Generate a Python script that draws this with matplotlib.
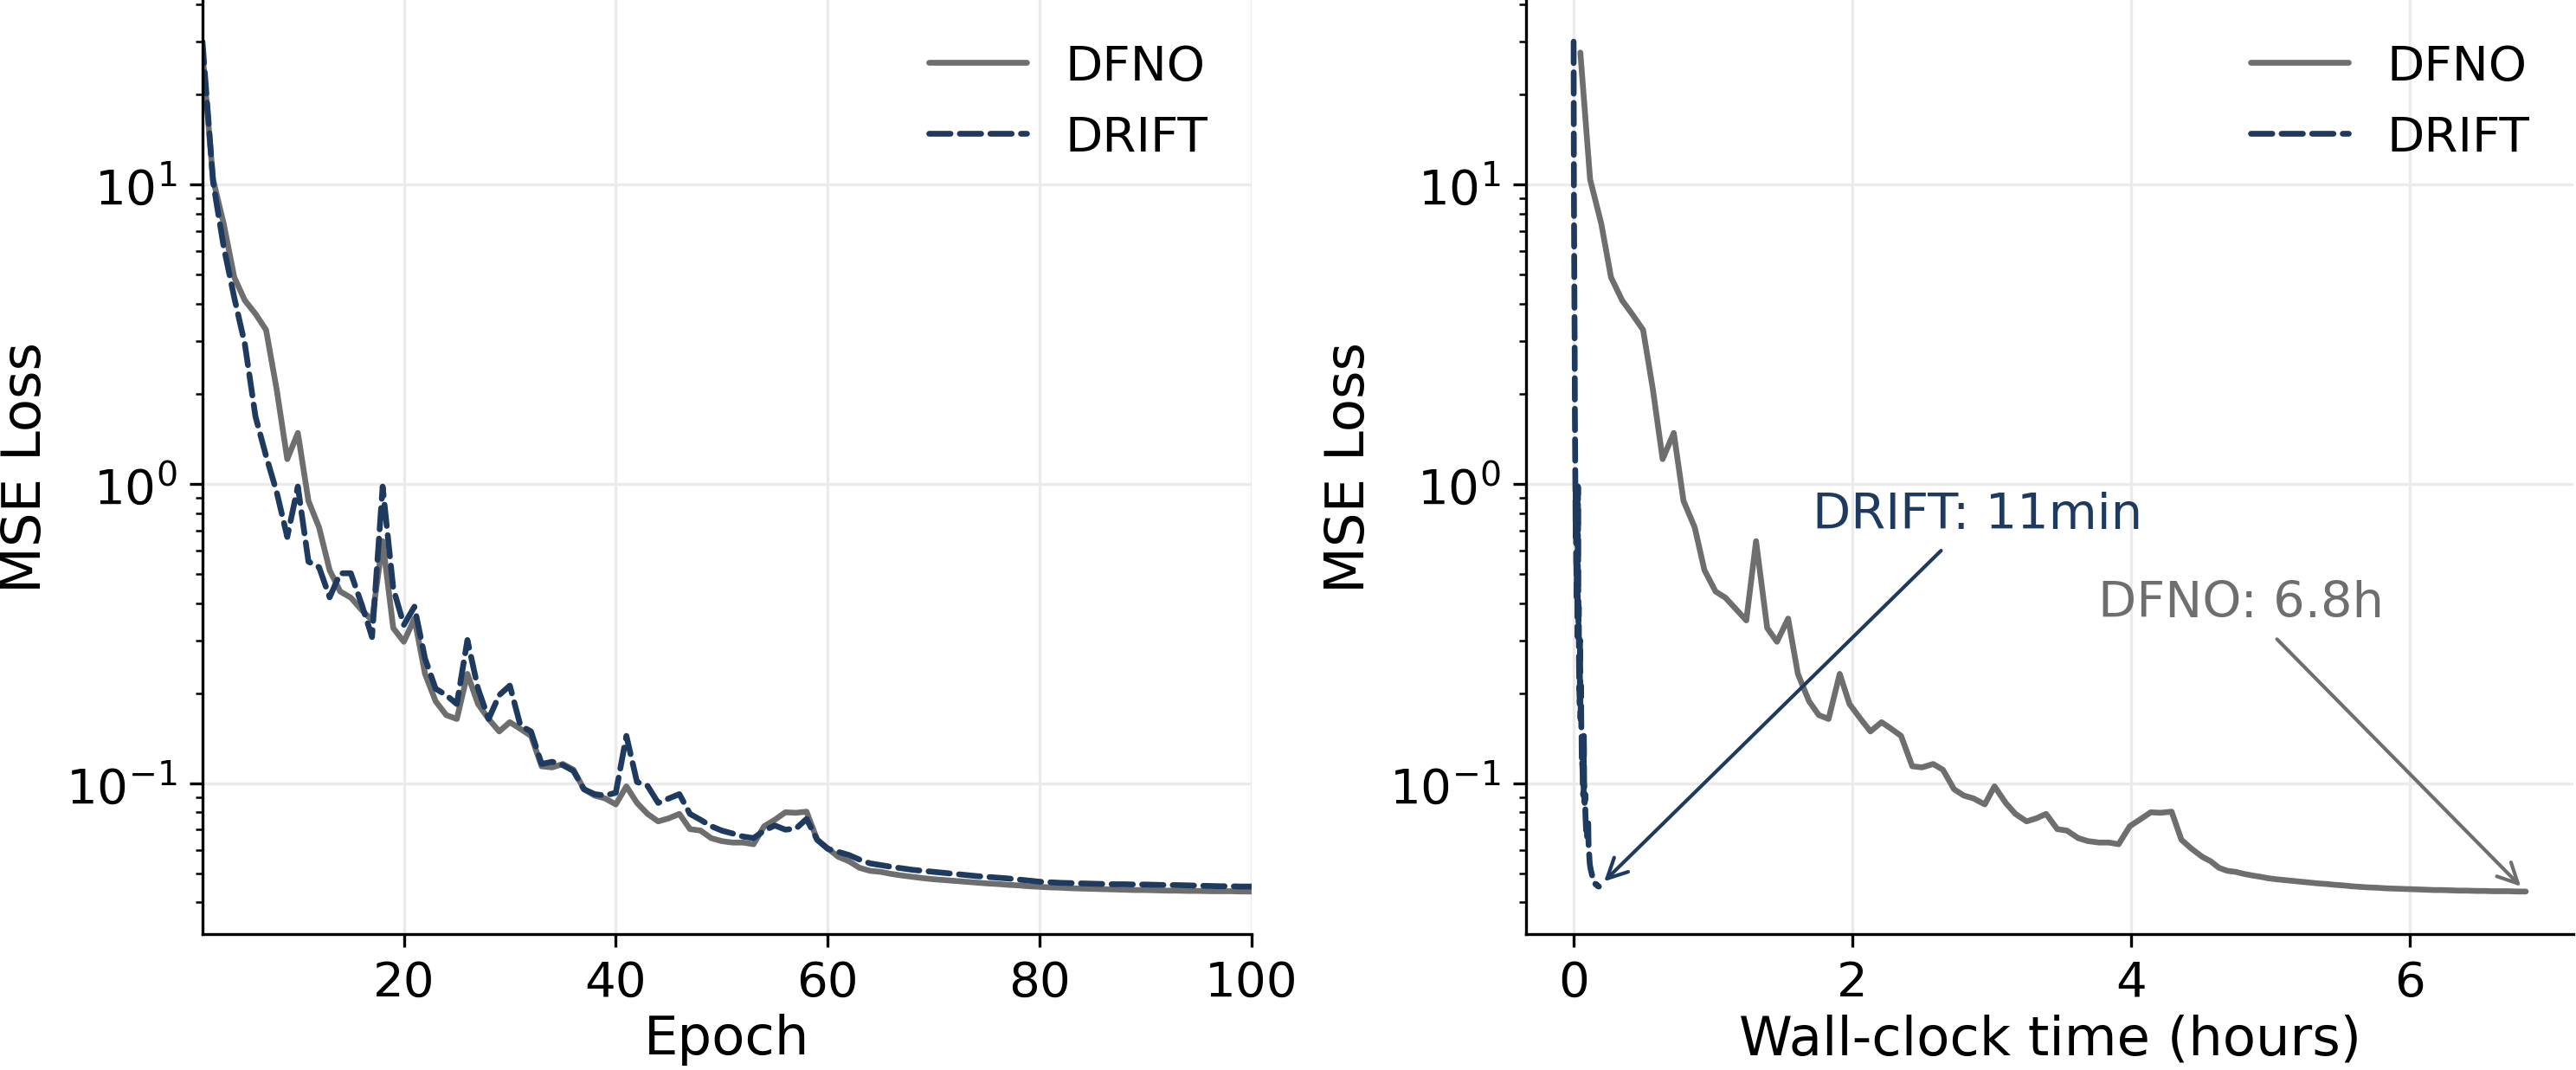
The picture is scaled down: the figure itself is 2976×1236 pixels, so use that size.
import numpy as np
import matplotlib
matplotlib.use("Agg")
import matplotlib.pyplot as plt

# colours
dfno_color = "#6e6e6e"
drift_color = "#1e3a5f"

epochs = np.arange(1, 101)

# MSE loss per epoch
dfno_loss = [
    27.6, 10.4, 7.4, 4.9, 4.1, 3.7, 3.27, 2.07, 1.21, 1.48,
    0.877, 0.716, 0.515, 0.437, 0.417, 0.38, 0.35, 0.644, 0.33, 0.297,
    0.355, 0.232, 0.188, 0.169, 0.164, 0.232, 0.184, 0.164, 0.149, 0.160,
    0.152, 0.144, 0.114, 0.113, 0.116, 0.111, 0.0955, 0.091, 0.089, 0.085,
    0.0977, 0.086, 0.079, 0.0746, 0.0764, 0.079, 0.0703, 0.0695, 0.0656, 0.0641,
    0.0634, 0.0634, 0.0626, 0.0719, 0.0755, 0.080, 0.0797, 0.0804, 0.0648, 0.0606,
    0.0568, 0.0549, 0.0522, 0.0510, 0.0506, 0.0498, 0.0492, 0.0487, 0.0482, 0.0478,
    0.0475, 0.0472, 0.0469, 0.0466, 0.0463, 0.0461, 0.0458, 0.0456, 0.0453, 0.0451,
    0.0449, 0.0448, 0.0446, 0.0445, 0.0444, 0.0443, 0.0442, 0.0441, 0.0440, 0.0440,
    0.0439, 0.0438, 0.0438, 0.0437, 0.0437, 0.0436, 0.0436, 0.0436, 0.0435, 0.0435,
]
drift_loss = [
    30.0, 10.2, 6.2, 4.19, 2.93, 1.68, 1.24, 0.94, 0.665, 0.98,
    0.55, 0.527, 0.418, 0.503, 0.503, 0.398, 0.308, 0.98, 0.448, 0.338,
    0.389, 0.261, 0.207, 0.197, 0.184, 0.301, 0.207, 0.164, 0.197, 0.212,
    0.156, 0.149, 0.116, 0.118, 0.115, 0.110, 0.0955, 0.092, 0.091, 0.093,
    0.144, 0.101, 0.098, 0.086, 0.089, 0.092, 0.079, 0.0755, 0.0719, 0.0695,
    0.068, 0.0664, 0.0656, 0.0695, 0.0723, 0.0700, 0.0706, 0.0760, 0.0648, 0.0604,
    0.0590, 0.0576, 0.0556, 0.0540, 0.0533, 0.0526, 0.0520, 0.0514, 0.0510, 0.0506,
    0.0502, 0.0498, 0.0494, 0.0490, 0.0487, 0.0484, 0.0481, 0.0477, 0.0473, 0.0469,
    0.0467, 0.0465, 0.0464, 0.0463, 0.0462, 0.0461, 0.0460, 0.0460, 0.0459, 0.0459,
    0.0458, 0.0457, 0.0457, 0.0456, 0.0455, 0.0454, 0.0453, 0.0453, 0.0452, 0.0452,
]

# cumulative wall-clock time (hours) at the end of each DFNO epoch
dfno_hours = [
    0.05, 0.12, 0.20, 0.27, 0.35, 0.42, 0.50, 0.57, 0.64, 0.72,
    0.79, 0.87, 0.94, 1.02, 1.09, 1.17, 1.24, 1.31, 1.39, 1.46,
    1.54, 1.61, 1.69, 1.76, 1.83, 1.91, 1.98, 2.06, 2.13, 2.21,
    2.28, 2.35, 2.43, 2.50, 2.58, 2.65, 2.73, 2.80, 2.87, 2.95,
    3.02, 3.10, 3.17, 3.25, 3.32, 3.39, 3.47, 3.54, 3.62, 3.69,
    3.77, 3.84, 3.91, 3.99, 4.06, 4.14, 4.21, 4.29, 4.36, 4.43,
    4.51, 4.57, 4.63, 4.69, 4.75, 4.81, 4.87, 4.93, 4.98, 5.04,
    5.10, 5.16, 5.22, 5.28, 5.34, 5.40, 5.46, 5.52, 5.58, 5.64,
    5.70, 5.76, 5.82, 5.88, 5.94, 6.00, 6.06, 6.12, 6.17, 6.23,
    6.29, 6.35, 6.41, 6.47, 6.53, 6.59, 6.65, 6.71, 6.77, 6.83,
]
# DRIFT finished 100 epochs in 11 minutes
drift_total_min = 11
drift_hours = epochs * (drift_total_min / 60) / len(epochs)

plt.rcParams["lines.solid_capstyle"] = "round"
plt.rcParams["lines.dash_capstyle"] = "round"

fig = plt.figure(figsize=(9.92, 4.123), dpi=300)
ax1 = fig.add_axes([0.0786, 0.127, 0.4073, 0.873])
ax2 = fig.add_axes([0.5924, 0.127, 0.4066, 0.873])

label_fs = 15
tick_fs = 13.5

for ax in (ax1, ax2):
    ax.set_yscale("log")
    ax.spines["top"].set_visible(False)
    ax.spines["right"].set_visible(False)
    ax.grid(True, which="major", color="#ebebeb", linewidth=0.8)
    ax.set_axisbelow(True)
    ax.tick_params(labelsize=tick_fs)
    ax.set_ylabel("MSE Loss", fontsize=label_fs)

# left: loss vs epoch
ax1.plot(epochs, dfno_loss, color=dfno_color, lw=1.6, label="DFNO")
ax1.plot(epochs, drift_loss, color=drift_color, lw=1.6, ls="--", label="DRIFT")
ax1.set_xlim(1, 100)
ax1.set_xlabel("Epoch", fontsize=label_fs, labelpad=2)
ax1.legend(frameon=False, fontsize=tick_fs, loc="upper right")

# right: loss vs wall-clock time
ax2.plot(dfno_hours, dfno_loss, color=dfno_color, lw=1.6, label="DFNO")
ax2.plot(drift_hours, drift_loss, color=drift_color, lw=1.6, ls="--", label="DRIFT")
ax2.set_xlabel("Wall-clock time (hours)", fontsize=label_fs, labelpad=2)
ax2.legend(frameon=False, fontsize=tick_fs, loc="upper right")

ax2.annotate("DRIFT: 11min", xy=(drift_hours[-1], drift_loss[-1]), xytext=(2.9, 0.79),
             ha="center", va="center", fontsize=13.8, color=drift_color,
             arrowprops=dict(arrowstyle="->", color=drift_color, lw=1.0))
ax2.annotate("DFNO: 6.8h", xy=(dfno_hours[-1], dfno_loss[-1]), xytext=(4.79, 0.40),
             ha="center", va="center", fontsize=13.8, color=dfno_color,
             arrowprops=dict(arrowstyle="->", color=dfno_color, lw=1.0))

fig.savefig("out.png", dpi=300)
